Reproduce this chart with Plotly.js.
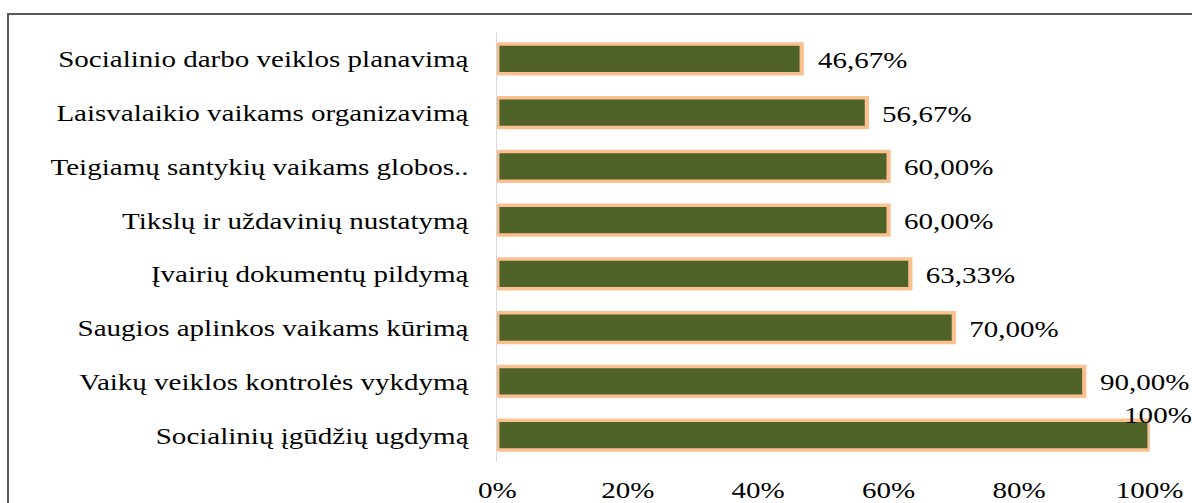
<!DOCTYPE html>
<html>
<head>
<meta charset="utf-8">
<script src="https://cdn.plot.ly/plotly-3.0.1.min.js"></script>
<style>
  html, body { margin: 0; padding: 0; background: #fff; }
  #wrap { position: relative; width: 1192px; height: 503px; overflow: hidden; }
  #chart { position: absolute; left: 0; top: 0; width: 986px; height: 503px;
           transform: scaleX(1.21); transform-origin: 0 0; }
  #frame { position: absolute; left: 7px; top: 13px; width: 1300px; height: 600px;
           border-top: 2px solid #5a5a5a; border-left: 2px solid #5a5a5a; pointer-events: none; }
</style>
</head>
<body>
<div id="wrap">
  <div id="chart"></div>
  <div id="frame"></div>
</div>
<script>
// Categories, listed top to bottom as in the picture
const categories = [
  "Socialinio darbo veiklos planavimą",
  "Laisvalaikio vaikams organizavimą",
  "Teigiamų santykių vaikams globos..",
  "Tikslų ir uždavinių nustatymą",
  "Įvairių dokumentų pildymą",
  "Saugios aplinkos vaikams kūrimą",
  "Vaikų veiklos kontrolės vykdymą",
  "Socialinių įgūdžių ugdymą"
];
const values = [46.67, 56.67, 60.00, 60.00, 63.33, 70.00, 90.00, 100];
const valueLabels = ["46,67%", "56,67%", "60,00%", "60,00%", "63,33%", "70,00%", "90,00%", "100%"];
const tickVals = [0, 20, 40, 60, 80, 100];
const tickText = ["0%", "20%", "40%", "60%", "80%", "100%"];

const FONT = "Liberation Serif, Times New Roman, serif";
const FS = 24;

const trace = {
  type: "bar",
  orientation: "h",
  x: values,
  y: categories,
  width: 0.55,
  marker: { color: "#4f6228", line: { color: "#fac090", width: 3.5 } },
  hoverinfo: "skip",
  cliponaxis: false
};

const annotations = categories.map((c, i) => {
  const last = values[i] >= 100;
  return {
    x: values[i], y: c, xref: "x", yref: "y",
    text: valueLabels[i], showarrow: false,
    xanchor: "left", yanchor: "middle",
    xshift: last ? -23 : 11, yshift: last ? 20 : -1,
    font: { family: FONT, size: FS, color: "#000" }
  };
});

const layout = {
  width: 986, height: 503,
  margin: { l: 411, r: 36, t: 32, b: 41, pad: 0 },
  paper_bgcolor: "rgba(0,0,0,0)",
  plot_bgcolor: "rgba(0,0,0,0)",
  showlegend: false,
  xaxis: {
    range: [0, 100], tickvals: tickVals, ticktext: tickText,
    showgrid: false, zeroline: false, showline: false,
    ticks: "outside", ticklen: 6, tickcolor: "rgba(0,0,0,0)",
    tickfont: { family: FONT, size: FS, color: "#000" },
    automargin: false, fixedrange: true
  },
  yaxis: {
    type: "category", range: [categories.length - 0.5, -0.5],
    showgrid: false, zeroline: false,
    showline: true, linecolor: "#d9d9d9", linewidth: 1,
    ticks: "outside", ticklen: 18, tickcolor: "rgba(0,0,0,0)",
    tickfont: { family: FONT, size: FS, color: "#000" },
    automargin: false, fixedrange: true
  },
  annotations: annotations
};

Plotly.newPlot("chart", [trace], layout, { displayModeBar: false, staticPlot: true });
</script>
</body>
</html>
